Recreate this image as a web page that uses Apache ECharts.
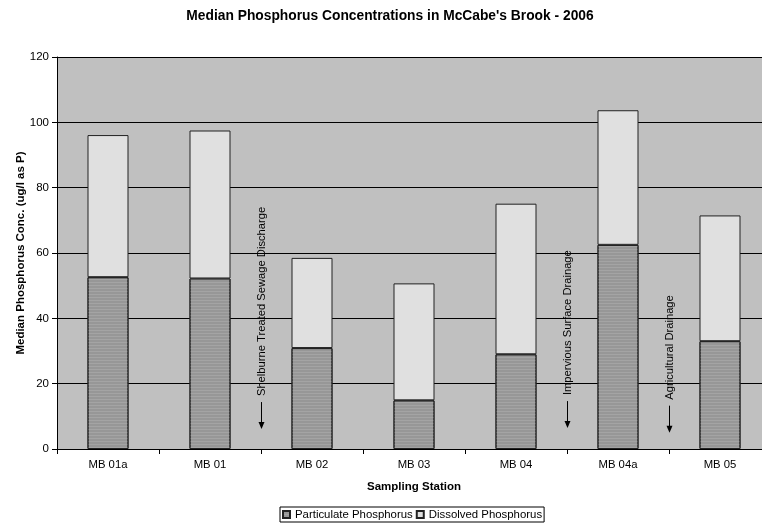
<!DOCTYPE html>
<html>
<head>
<meta charset="utf-8">
<script src="https://cdn.jsdelivr.net/npm/echarts@6/dist/echarts.min.js"></script>
<style>
html,body{margin:0;padding:0;background:#fff;}
#chart{width:762px;height:524px;}
</style>
</head>
<body>
<div id="chart"></div>
<script>
var stations = ['MB 01a', 'MB 01', 'MB 02', 'MB 03', 'MB 04', 'MB 04a', 'MB 05'];
var particulate = [52.6, 52.2, 30.9, 14.9, 29.0, 62.5, 33.0];
var dissolved = [43.5, 45.3, 27.6, 35.8, 46.1, 41.2, 38.5];
var yTicks = [0, 20, 40, 60, 80, 100, 120];
var annotLabels = ['Shelburne Treated Sewage Discharge', 'Impervious Surface Drainage', 'Agricultural Drainage'];
var annotBoundary = [2, 5, 6];
var annotTip = [6.1, 6.4, 5.0];

var FONT = '"Liberation Sans", Arial, sans-serif';
var chart = echarts.init(document.getElementById('chart'), null, {renderer: 'canvas'});

var annotData = annotLabels.map(function (l, i) { return [annotBoundary[i], annotTip[i], l]; });
var nameStyle = {fontFamily: FONT, fontSize: 11.5, fontWeight: 'bold', color: '#000'};

var option = {
  animation: false,
  textStyle: {fontFamily: FONT},
  title: {
    text: "Median Phosphorus Concentrations in McCabe's Brook - 2006",
    left: 385, top: 4, textAlign: 'center',
    textStyle: {fontFamily: FONT, fontSize: 13.8, fontWeight: 'bold', color: '#000'}
  },
  legend: {
    left: 280, top: 507,
    padding: [2, 2, 2, 2],
    borderColor: '#000', borderWidth: 1,
    itemWidth: 7, itemHeight: 7, itemGap: 3,
    icon: 'rect',
    textStyle: {fontFamily: FONT, fontSize: 11.4, color: '#000'},
    data: ['Particulate Phosphorus', 'Dissolved Phosphorus']
  },
  grid: {
    left: 57, top: 57, width: 714, height: 392,
    show: true, backgroundColor: '#c0c0c0', borderWidth: 0,
    containLabel: false,
    outerBoundsMode: 'none'
  },
  xAxis: [{
    type: 'category',
    data: stations,
    boundaryGap: true,
    axisLine: {show: true, lineStyle: {color: '#000', width: 1}},
    axisTick: {show: true, length: 5, inside: false, lineStyle: {color: '#000'}},
    axisLabel: {fontFamily: FONT, fontSize: 11.3, color: '#000', margin: 10},
    splitLine: {show: false}
  }, {
    type: 'value', min: 0, max: 7, show: false
  }, {
    type: 'category',
    data: stations,
    position: 'bottom',
    name: 'Sampling Station',
    nameLocation: 'middle',
    nameGap: 32,
    nameTextStyle: nameStyle,
    axisLine: {show: false}, axisTick: {show: false}, axisLabel: {show: false}, splitLine: {show: false}
  }],
  yAxis: [{
    type: 'value',
    min: 0, max: 120, interval: 20,
    axisLine: {show: true, lineStyle: {color: '#000', width: 1}},
    axisTick: {show: true, length: 5, inside: false, lineStyle: {color: '#000'}},
    axisLabel: {
      fontFamily: FONT, fontSize: 11.5, color: '#000', margin: 8,
      formatter: function (v) { return yTicks.indexOf(v) >= 0 ? String(v) : ''; }
    },
    splitLine: {show: true, lineStyle: {color: '#000', width: 1}}
  }, {
    type: 'value',
    min: 0, max: 120, interval: 20,
    position: 'left',
    name: 'Median Phosphorus Conc. (ug/l as P)',
    nameLocation: 'middle',
    nameGap: 30,
    nameRotate: 90,
    nameTextStyle: nameStyle,
    axisLine: {show: false}, axisTick: {show: false}, axisLabel: {show: false}, splitLine: {show: false}
  }],
  series: [{
    name: 'Particulate Phosphorus',
    type: 'bar',
    stack: 'p',
    barWidth: 41,
    data: particulate,
    itemStyle: {
      color: '#979797', borderColor: '#222', borderWidth: 1,
      decal: {symbol: 'rect', symbolSize: 1, dashArrayX: [1, 0], dashArrayY: [1, 2], color: 'rgba(175,175,175,0.55)', rotation: 0}
    }
  }, {
    name: 'Dissolved Phosphorus',
    type: 'bar',
    stack: 'p',
    barWidth: 41,
    data: dissolved,
    itemStyle: {color: '#e0e0e0', borderColor: '#222', borderWidth: 1}
  }, {
    name: 'annotations',
    type: 'custom',
    xAxisIndex: 1,
    yAxisIndex: 0,
    silent: true,
    data: annotData,
    encode: {x: 0, y: 1},
    renderItem: function (params, api) {
      var d = annotData[params.dataIndex];
      var p = api.coord([d[0], d[1]]);
      var x = Math.round(p[0]) + 0.5;
      var tipY = p[1];
      var lineTop = tipY - 27;
      return {
        type: 'group',
        children: [
          {type: 'line', shape: {x1: x, y1: lineTop, x2: x, y2: tipY - 6}, style: {stroke: '#000', lineWidth: 1}},
          {type: 'polygon', shape: {points: [[x - 3, tipY - 7], [x + 3, tipY - 7], [x, tipY]]}, style: {fill: '#000'}},
          {type: 'text', x: x + 0.5, y: lineTop - 6, rotation: Math.PI / 2,
            style: {text: d[2], font: '11.2px ' + FONT, fill: '#000', align: 'left', verticalAlign: 'middle'}}
        ]
      };
    }
  }]
};
chart.setOption(option);
</script>
</body>
</html>
